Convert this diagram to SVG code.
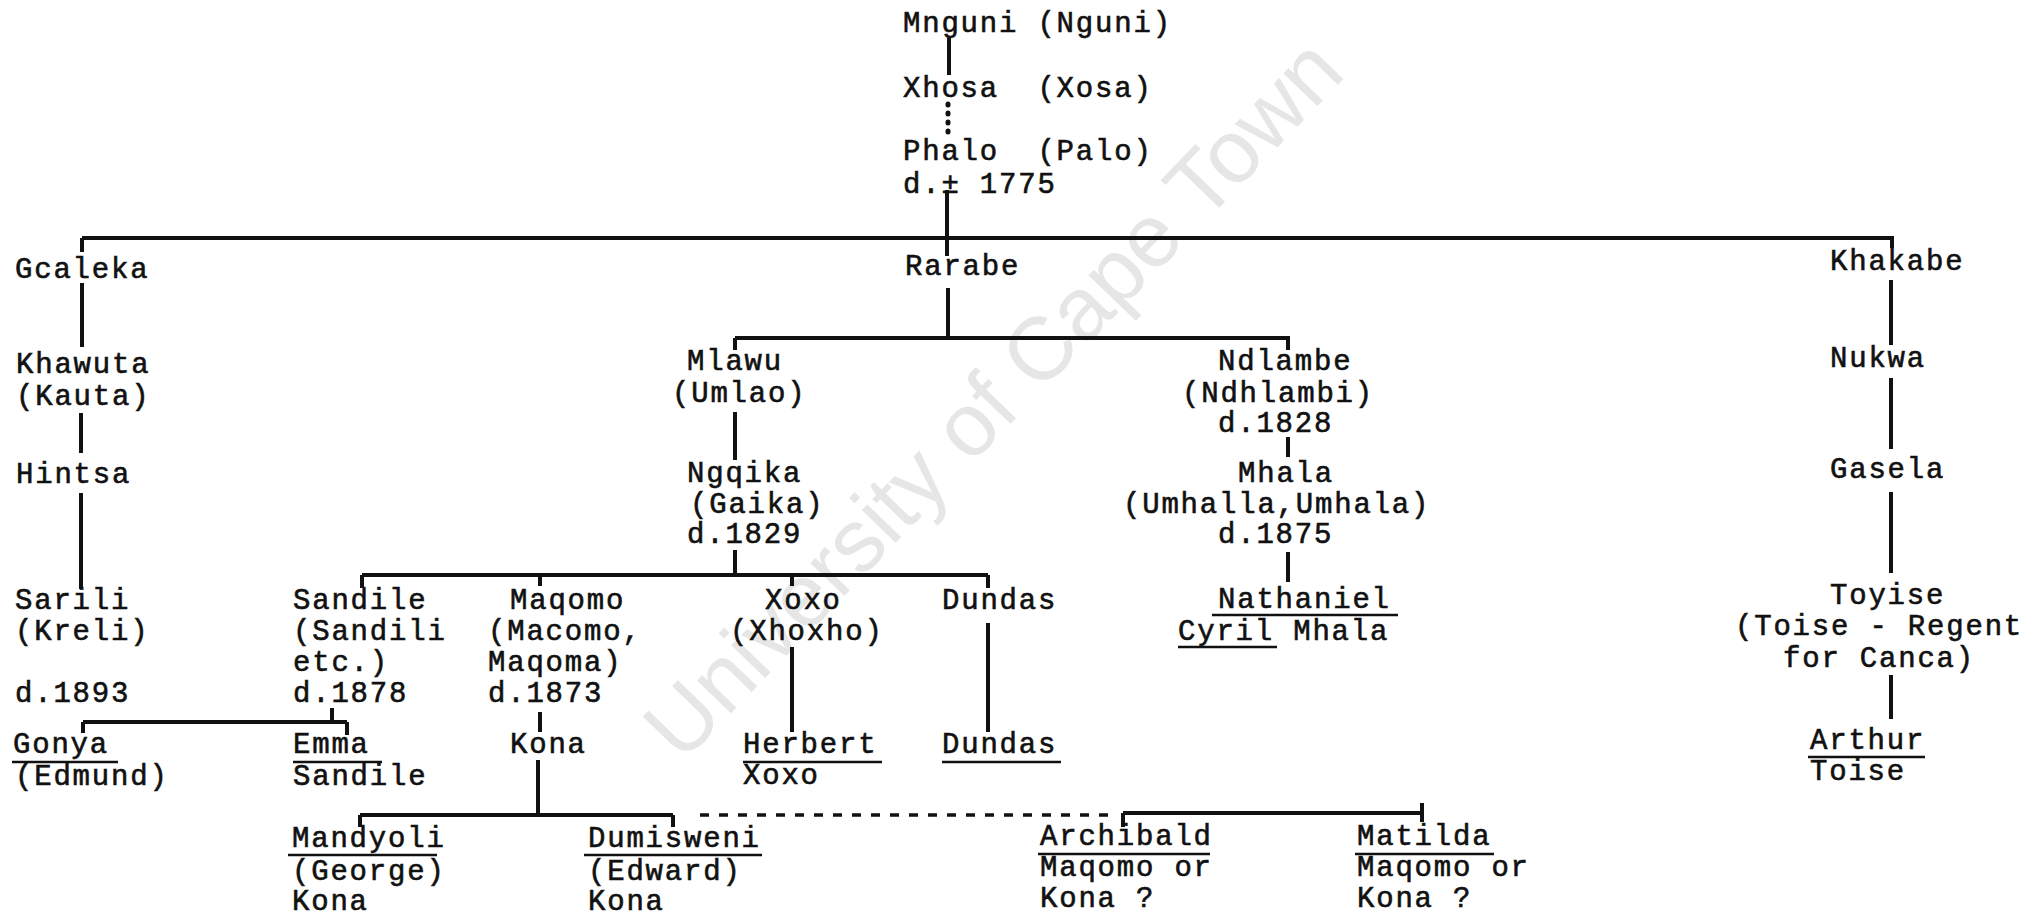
<svg xmlns="http://www.w3.org/2000/svg" width="2042" height="915" viewBox="0 0 2042 915">
<style>
text{font-family:"Liberation Mono","DejaVu Sans Mono",monospace;font-size:29px;letter-spacing:1.8px;fill:#111;stroke:#111;stroke-width:0.6px;}
.wm{font-family:"Liberation Sans",Arial,sans-serif;font-size:89px;letter-spacing:0;fill:#e6e6e6;stroke:none;}
.c path{stroke:#111;stroke-width:4;fill:none;}
.u{stroke:#111;stroke-width:2.5;fill:none;}
.c path.dot{stroke-dasharray:1 8;stroke-linecap:round;stroke-width:5;}
.c path.dash{stroke-dasharray:9 10;stroke-width:3.5;}
</style>
<rect width="2042" height="915" fill="#fff"/>
<text class="wm" x="682" y="764" transform="rotate(-46 682 764)">University of Cape Town</text>
<g class="c" id="connectors">
<path d="M949,38V75"/>
<path class="dot" d="M948,104V140"/>
<path d="M947,190V256"/>
<path d="M82,238H1892M82,238V252M1892,236V248"/>
<path d="M82,283V347M81,413V453M81,493V589"/>
<path d="M948,288V338M735,338H1288M735,338V350M1288,336V350"/>
<path d="M735,412V460M735,550V575"/>
<path d="M362,575H988M362,575V588M540,575V586M792,575V586M988,575V588"/>
<path d="M1288,437V457M1288,552V582"/>
<path d="M792,647V732M988,623V732"/>
<path d="M332,708V722M83,722H347M83,722V733M347,722V735"/>
<path d="M540,712V732"/>
<path d="M538,760V815M360,815H673M360,815V827M673,815V827"/>
<path class="dash" d="M700,815H1110"/>
<path d="M1123,813H1422M1123,813V827M1422,803V822"/>
<path d="M1891,280V345M1891,378V449M1891,492V573M1891,675V719"/>
</g>
<g id="mnguni"><text x="903" y="32">Mnguni (Nguni)</text></g>
<g id="xhosa"><text x="903" y="97" xml:space="preserve">Xhosa  (Xosa)</text></g>
<g id="phalo"><text x="903" y="160" xml:space="preserve">Phalo  (Palo)</text><text x="903" y="193">d.± 1775</text></g>
<g id="rarabe"><text x="905" y="275">Rarabe</text></g>
<g id="gcaleka"><text x="15" y="278">Gcaleka</text></g>
<g id="khawuta"><text x="16" y="373">Khawuta</text><text x="16" y="405">(Kauta)</text></g>
<g id="hintsa"><text x="16" y="483">Hintsa</text></g>
<g id="sarili"><text x="15" y="609">Sarili</text><text x="15" y="640">(Kreli)</text><text x="15" y="702">d.1893</text></g>
<g id="sandile"><text x="293" y="609">Sandile</text><text x="293" y="640">(Sandili</text><text x="293" y="671">etc.)</text><text x="293" y="702">d.1878</text></g>
<g id="maqomo"><text x="510" y="609">Maqomo</text><text x="488" y="640">(Macomo,</text><text x="488" y="671">Maqoma)</text><text x="488" y="702">d.1873</text></g>
<g id="kona"><text x="510" y="753">Kona</text></g>
<g id="xoxo"><text x="765" y="609">Xoxo</text><text x="730" y="640">(Xhoxho)</text></g>
<g id="dundas"><text x="942" y="609">Dundas</text></g>
<g id="herbert"><text x="743" y="753">Herbert</text><path class="u" d="M743,762H882"/><text x="743" y="784">Xoxo</text></g>
<g id="dundas2"><text x="942" y="753">Dundas</text><path class="u" d="M942,762H1061"/></g>
<g id="gonya"><text x="13" y="753">Gonya</text><path class="u" d="M12,762H118"/><text x="15" y="785">(Edmund)</text></g>
<g id="emma"><text x="293" y="753">Emma</text><path class="u" d="M293,762H382"/><text x="293" y="785">Sandile</text></g>
<g id="mlawu"><text x="687" y="370">Mlawu</text><text x="672" y="402">(Umlao)</text></g>
<g id="ngqika"><text x="687" y="482">Ngqika</text><text x="690" y="513">(Gaika)</text><text x="687" y="543">d.1829</text></g>
<g id="ndlambe"><text x="1218" y="370">Ndlambe</text><text x="1182" y="402">(Ndhlambi)</text><text x="1218" y="432">d.1828</text></g>
<g id="mhala"><text x="1238" y="482">Mhala</text><text x="1123" y="513">(Umhalla,Umhala)</text><text x="1218" y="543">d.1875</text></g>
<g id="nathaniel"><text x="1218" y="608">Nathaniel</text><path class="u" d="M1212,615H1398"/><text x="1178" y="640">Cyril Mhala</text><path class="u" d="M1178,647H1277"/></g>
<g id="mandyoli"><text x="292" y="847">Mandyoli</text><path class="u" d="M288,855H437"/><text x="292" y="880">(George)</text><text x="292" y="910">Kona</text></g>
<g id="dumisweni"><text x="588" y="847">Dumisweni</text><path class="u" d="M584,855H762"/><text x="588" y="880">(Edward)</text><text x="588" y="910">Kona</text></g>
<g id="archibald"><text x="1040" y="845">Archibald</text><path class="u" d="M1038,854H1210"/><text x="1040" y="876">Maqomo or</text><text x="1040" y="907">Kona ?</text></g>
<g id="matilda"><text x="1357" y="845">Matilda</text><path class="u" d="M1355,854H1494"/><text x="1357" y="876">Maqomo or</text><text x="1357" y="907">Kona ?</text></g>
<g id="khakabe"><text x="1830" y="270">Khakabe</text></g>
<g id="nukwa"><text x="1830" y="367">Nukwa</text></g>
<g id="gasela"><text x="1830" y="478">Gasela</text></g>
<g id="toyise"><text x="1830" y="604">Toyise</text><text x="1735" y="635">(Toise - Regent</text><text x="1783" y="667">for Canca)</text></g>
<g id="arthur"><text x="1810" y="749">Arthur</text><path class="u" d="M1808,757H1925"/><text x="1810" y="780">Toise</text></g>
</svg>
